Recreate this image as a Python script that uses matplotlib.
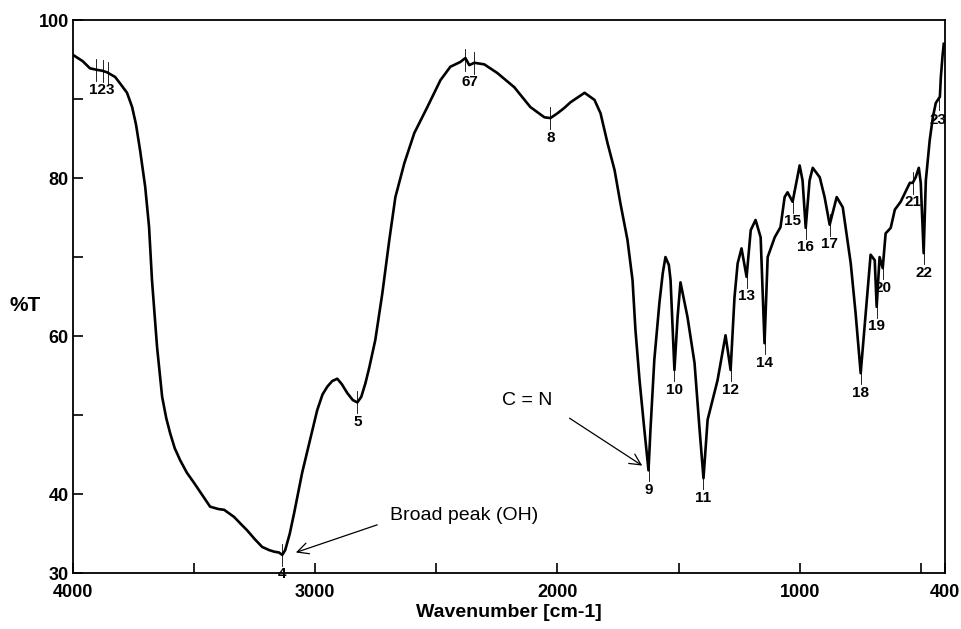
import matplotlib
matplotlib.use("Agg")
import matplotlib.pyplot as plt

plt.rcParams['font.family'] = ['Liberation Sans', 'DejaVu Sans']

# IR spectrum
wn = [4000, 3960, 3930, 3901, 3880, 3860, 3826, 3806, 3777, 3756, 3740, 3723,
      3702, 3686, 3674, 3653, 3632, 3615, 3599, 3580, 3558, 3530, 3500, 3465,
      3434, 3400, 3376, 3335, 3310, 3281, 3250, 3219, 3190, 3169, 3150, 3136,
      3124, 3105, 3087, 3054, 3020, 2992, 2970, 2950, 2930, 2909, 2890, 2868,
      2845, 2826, 2810, 2793, 2777, 2752, 2723, 2694, 2669, 2632, 2591, 2537,
      2483, 2442, 2401, 2380, 2364, 2343, 2302, 2248, 2178, 2112, 2054, 2029,
      2000, 1971, 1946, 1888, 1847, 1822, 1793, 1764, 1740, 1711, 1690, 1678,
      1661, 1641, 1624, 1616, 1600, 1579, 1565, 1554, 1540, 1533, 1517, 1504,
      1492, 1463, 1434, 1413, 1397, 1380, 1339, 1306, 1285, 1269, 1256, 1240,
      1219, 1202, 1182, 1161, 1145, 1132, 1103, 1079, 1062, 1050, 1029, 1000,
      988, 975, 959, 946, 917, 897, 876, 847, 822, 789, 769, 748, 727, 707, 690,
      682, 670, 657, 645, 624, 607, 583, 545, 533, 521, 508, 500, 488, 479, 463,
      450, 438, 421, 417, 410, 405]
trans = [95.6, 94.8, 93.9, 93.7, 93.6, 93.4, 92.8, 92.0, 90.8, 89.0, 86.8, 83.5,
         78.9, 73.8, 67.1, 58.6, 52.3, 49.6, 47.7, 45.8, 44.3, 42.7, 41.4, 39.8,
         38.4, 38.1, 38.0, 37.1, 36.3, 35.4, 34.3, 33.3, 32.9, 32.7, 32.6, 32.3,
         32.9, 35.0, 37.6, 42.7, 47.0, 50.6, 52.6, 53.6, 54.3, 54.6, 53.9, 52.8,
         51.9, 51.6, 52.3, 54.0, 56.0, 59.5, 65.4, 72.2, 77.6, 81.9, 85.7, 89.0,
         92.4, 94.1, 94.7, 95.2, 94.3, 94.6, 94.4, 93.3, 91.5, 89.0, 87.7, 87.6,
         88.2, 88.9, 89.6, 90.8, 89.9, 88.2, 84.4, 81.0, 76.8, 72.2, 67.1, 60.8,
         54.4, 48.1, 43.0, 48.1, 57.0, 64.2, 68.0, 70.0, 69.0, 67.1, 55.7, 62.4,
         66.8, 62.4, 56.6, 48.1, 42.0, 49.4, 54.4, 60.1, 55.7, 64.9, 69.2, 71.1,
         67.5, 73.4, 74.7, 72.5, 59.1, 70.0, 72.5, 73.8, 77.6, 78.2, 77.0, 81.6,
         79.7, 73.7, 79.7, 81.3, 80.1, 77.6, 74.1, 77.6, 76.3, 69.2, 62.9, 55.3,
         62.9, 70.3, 69.6, 63.7, 70.0, 68.6, 73.0, 73.7, 76.0, 77.0, 79.4, 79.4,
         80.1, 81.3, 79.4, 70.5, 79.7, 84.8, 87.7, 89.5, 90.3, 92.8, 95.5, 97.0]

# numbered peaks: tick position, tick level, label text and label level
peak_wn = [3905, 3876, 3855, 3136, 2826, 2380, 2343, 2029, 1624, 1517, 1397,
           1285, 1219, 1145, 1029, 975, 876, 748, 682, 657, 533, 488, 424]
peak_t = [93.7, 93.6, 93.3, 32.3, 51.6, 95.0, 94.6, 87.6, 43.0, 55.7, 42.0,
          55.7, 67.5, 59.1, 77.0, 73.7, 74.1, 55.3, 63.7, 68.6, 79.4, 70.5, 90.0]
lab_wn = [3880, 2826, 3136, 2362, 2029, 1624, 1517, 1397, 1285, 1219, 1145,
          1029, 975, 876, 748, 682, 657, 533, 488, 428]
lab_t = [92.1, 50.0, 30.7, 93.1, 86.0, 41.4, 54.1, 40.4, 54.1, 65.9, 57.5,
         75.4, 72.1, 72.5, 53.7, 62.1, 67.0, 77.8, 68.9, 88.3]
lab_txt = ['123', '5', '4', '67', '8', '9', '10', '11', '12', '13', '14',
           '15', '16', '17', '18', '19', '20', '21', '22', '23']

xticks = [4000, 3500, 3000, 2500, 2000, 1500, 1000, 500, 400]
xlabels = ['4000', '', '3000', '', '2000', '', '1000', '', '400']
yticks = [30, 40, 50, 60, 70, 80, 90, 100]
ylabels = ['30', '40', '', '60', '', '80', '', '100']

fig = plt.figure(figsize=(9.62, 6.29), dpi=100)
ax = fig.add_axes([0.0759, 0.089, 0.9064, 0.879])

ax.plot(wn, trans, color='black', lw=1.9, solid_joinstyle='round')

for w, t in zip(peak_wn, peak_t):
    ax.plot([w, w], [t + 1.4, t - 1.4], color='black', lw=0.6)
for w, t, lab in zip(lab_wn, lab_t, lab_txt):
    ax.text(w, t, lab, ha='center', va='top', fontsize=11, fontweight='bold')

ax.text(2124, 51.9, 'C = N', fontsize=14, ha='center', va='center')
ax.annotate('', xy=(1650, 43.6), xytext=(1950, 49.6),
            arrowprops=dict(arrowstyle='->', color='black', lw=0.9,
                            shrinkA=0, shrinkB=0, mutation_scale=20))
ax.text(2385, 37.3, 'Broad peak (OH)', fontsize=14, ha='center', va='center')
ax.annotate('', xy=(3080, 32.6), xytext=(2744, 36.1),
            arrowprops=dict(arrowstyle='->', color='black', lw=0.9,
                            shrinkA=0, shrinkB=0, mutation_scale=20))

ax.set_xlim(4000, 400)
ax.set_ylim(30, 100)
ax.set_xticks(xticks)
ax.set_xticklabels(xlabels)
ax.set_yticks(yticks)
ax.set_yticklabels(ylabels)
ax.tick_params(direction='in', length=7, width=1.2, labelsize=13)
ax.tick_params(axis='x', pad=8)
ax.tick_params(axis='y', pad=3)
for lab in ax.get_xticklabels() + ax.get_yticklabels():
    lab.set_fontweight('bold')
for s in ax.spines.values():
    s.set_linewidth(1.3)

ax.set_xlabel('Wavenumber [cm-1]', fontsize=14, fontweight='heavy', labelpad=2)
fig.text(0.026, 0.515, '%T', fontsize=15, fontweight='heavy',
         ha='center', va='center')

fig.savefig('out.png', dpi=100, facecolor='white')
